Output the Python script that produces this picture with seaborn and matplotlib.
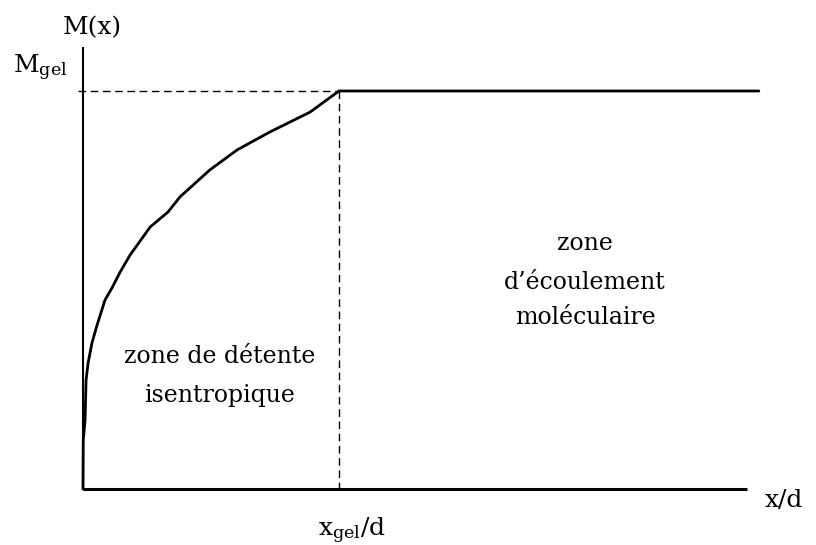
import numpy as np
import pandas as pd
import matplotlib
matplotlib.use("Agg")
import matplotlib.pyplot as plt
import seaborn as sns

# Curve (x in units of x_gel/d, M in units of M_gel)
x_curve = [0.0, 0.001, 0.008, 0.012, 0.020, 0.035, 0.055, 0.086, 0.113, 0.145,
           0.184, 0.262, 0.332, 0.379, 0.496, 0.602, 0.730, 0.887, 1.0, 2.64]
m_curve = [0.0, 0.123, 0.173, 0.274, 0.317, 0.367, 0.412, 0.475, 0.505, 0.545,
           0.588, 0.658, 0.696, 0.734, 0.802, 0.852, 0.897, 0.947, 1.0, 1.0]

x_gel = 1.0
m_gel = 1.0
x_axis_end = 2.594
y_axis_end = 1.11

left_zone = ["zone de détente", "isentropique"]
right_zone = ["zone", "d\u2019écoulement", "moléculaire"]

sns.set_theme(style="white")
plt.rcParams['font.family'] = ['DejaVu Serif']
plt.rcParams['mathtext.default'] = 'regular'
plt.rcParams['text.color'] = 'black'

fig = plt.figure(figsize=(8.16, 5.45), dpi=100)
ax = fig.add_axes([0, 0, 1, 1])
ax.set_xlim(-83 / 256, (816 - 83) / 256)
ax.set_ylim(-(545 - 489) / 398, 489 / 398)
ax.axis("off")

# axes drawn as plain lines
ax.plot([0, 0], [0, y_axis_end], color="black", lw=1.5, solid_capstyle="butt")
ax.plot([0, x_axis_end], [0, 0], color="black", lw=2.2, solid_capstyle="butt")

# dashed guides
ax.plot([-0.02, x_gel], [m_gel, m_gel], color="black", lw=1.0, linestyle=(0, (5.5, 3.3)))
ax.plot([x_gel, x_gel], [m_gel, 0], color="black", lw=1.0, linestyle=(0, (5.5, 3.3)))

df = pd.DataFrame({"x": x_curve, "M": m_curve})
sns.lineplot(data=df, x="x", y="M", sort=False, estimator=None, color="black",
             lw=2.0, ax=ax)
ax.set_xlabel("")
ax.set_ylabel("")

fs = 17
ax.text(0.035, 1.158, "M(x)", ha="center", va="center", fontsize=fs + 1, color="black")
ax.text(-0.0625, 1.059, r"$M_{gel}$", ha="right", va="center", fontsize=fs + 1, color="black")
ax.text(2.664, -0.030, "x/d", ha="left", va="center", fontsize=fs + 1, color="black")
ax.text(0.918, -0.106, r"$x_{gel}$/d", ha="left", va="center", fontsize=fs + 1, color="black")

for txt, yy in zip(left_zone, [0.332, 0.236]):
    ax.text(0.535, yy, txt, ha="center", va="center", fontsize=fs, color="black")
for txt, yy in zip(right_zone, [0.618, 0.520, 0.430]):
    ax.text(1.961, yy, txt, ha="center", va="center", fontsize=fs, color="black")

fig.savefig("out.png", dpi=100)
